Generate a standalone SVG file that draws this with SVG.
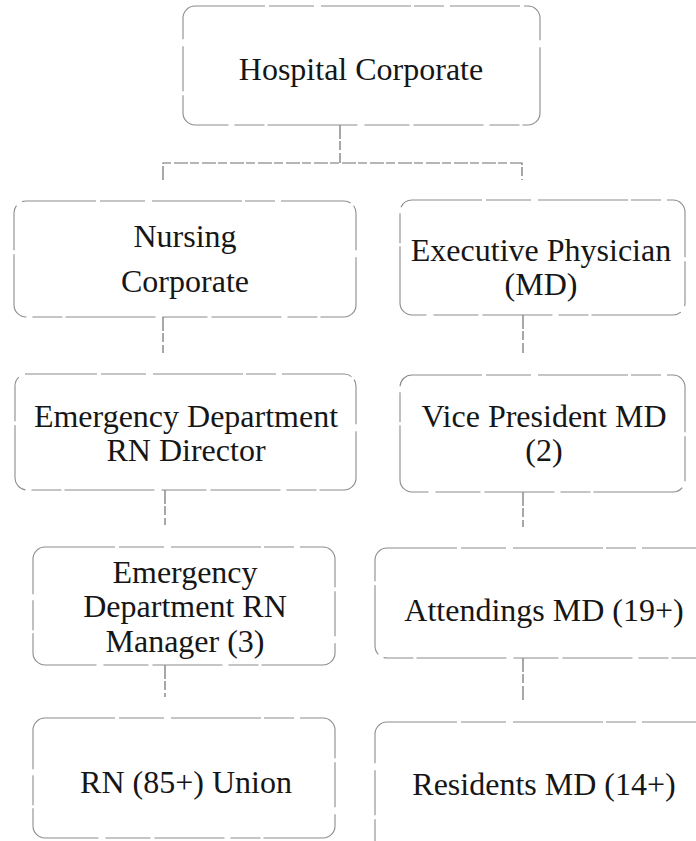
<svg xmlns="http://www.w3.org/2000/svg" width="696" height="841" viewBox="0 0 696 841">
  <style>
    .box { fill: #ffffff; stroke: #8c8c8c; stroke-width: 1.1; stroke-dasharray: 70 4 45 7 90 3 30 6; }
    .link { fill: none; stroke: #6e6e6e; stroke-width: 1.2; stroke-dasharray: 14 2 9 3; }
    text { font-family: "Liberation Serif", "DejaVu Serif", "Times New Roman", serif; font-size: 32px; fill: #161616; text-anchor: middle; }
  </style>
  <rect width="696" height="841" fill="#ffffff"/>

  <!-- reporting lines -->
  <g id="connectors">
    <path class="link" d="M340 125 V163"/>
    <path class="link" d="M163 180 V163 H522 V180"/>
    <path class="link" d="M163 317 V353"/>
    <path class="link" d="M523 315 V353"/>
    <path class="link" d="M165 490 V525"/>
    <path class="link" d="M523 492 V527"/>
    <path class="link" d="M165 665 V697"/>
    <path class="link" d="M523 658 V700"/>
  </g>

  <g id="hospital-corporate">
    <rect class="box" x="183" y="6" width="357" height="119" rx="12"/>
    <text x="361" y="80" font-family="Liberation Serif, serif">Hospital Corporate</text>
  </g>

  <g id="nursing-corporate">
    <rect class="box" x="14" y="201" width="342" height="116" rx="12"/>
    <text x="185" y="247" font-family="Liberation Serif, serif">Nursing</text>
    <text x="185" y="292" font-family="Liberation Serif, serif">Corporate</text>
  </g>

  <g id="executive-physician">
    <rect class="box" x="400" y="200" width="285" height="115" rx="12"/>
    <text x="541" y="261" font-family="Liberation Serif, serif">Executive Physician</text>
    <text x="541" y="295" font-family="Liberation Serif, serif">(MD)</text>
  </g>

  <g id="ed-rn-director">
    <rect class="box" x="15" y="374" width="341" height="116" rx="12"/>
    <text x="186" y="427" font-family="Liberation Serif, serif">Emergency Department</text>
    <text x="186" y="461" font-family="Liberation Serif, serif">RN Director</text>
  </g>

  <g id="vice-president-md">
    <rect class="box" x="400" y="375" width="285" height="117" rx="12"/>
    <text x="544" y="427" font-family="Liberation Serif, serif">Vice President MD</text>
    <text x="544" y="461" font-family="Liberation Serif, serif">(2)</text>
  </g>

  <g id="ed-rn-manager">
    <rect class="box" x="33" y="547" width="302" height="118" rx="12"/>
    <text x="185" y="583" font-family="Liberation Serif, serif">Emergency</text>
    <text x="185" y="617" font-family="Liberation Serif, serif">Department RN</text>
    <text x="185" y="652" font-family="Liberation Serif, serif">Manager (3)</text>
  </g>

  <g id="attendings-md">
    <rect class="box" x="375" y="548" width="340" height="110" rx="12"/>
    <text x="544" y="621" font-family="Liberation Serif, serif">Attendings MD (19+)</text>
  </g>

  <g id="rn-union">
    <rect class="box" x="33" y="718" width="302" height="120" rx="12"/>
    <text x="186" y="793" font-family="Liberation Serif, serif">RN (85+) Union</text>
  </g>

  <g id="residents-md">
    <rect class="box" x="375" y="722" width="340" height="140" rx="12"/>
    <text x="544" y="795" font-family="Liberation Serif, serif">Residents MD (14+)</text>
  </g>
</svg>
